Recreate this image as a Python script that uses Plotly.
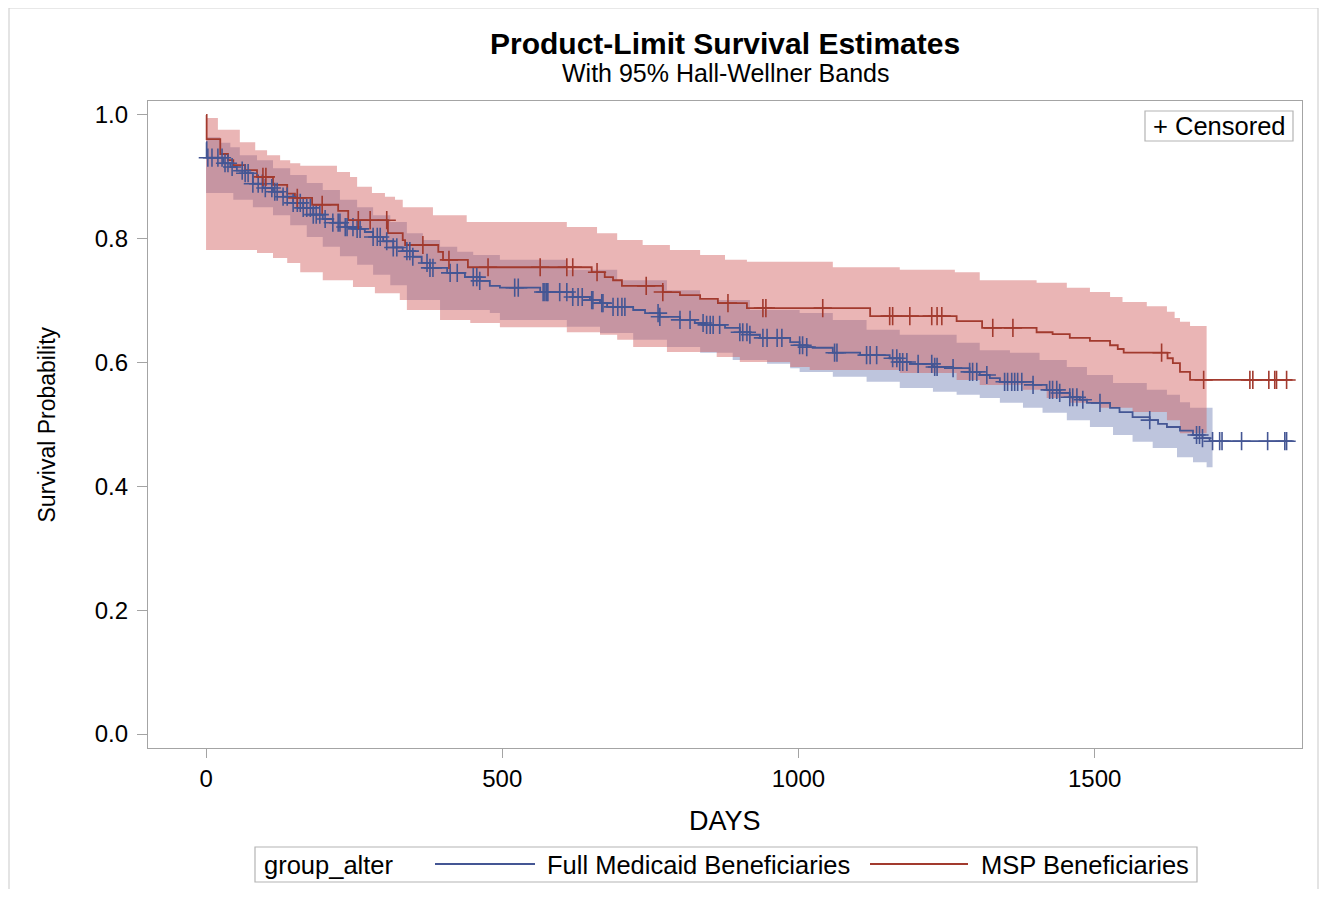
import bisect
import plotly.graph_objects as go

# ---------------- data (days, survival probability) ----------------
MSP_T = [0, 1, 24, 37, 46, 66, 86, 113, 137, 150, 179, 223, 240, 307, 332, 336, 392, 400, 442, 651,
         673, 687, 702, 771, 800, 834, 864, 913, 1121, 1267, 1310, 1402, 1429, 1458, 1492, 1526, 1539,
         1549, 1623, 1632, 1644, 1661]
MSP_S = [1.000, 0.961, 0.937, 0.927, 0.919, 0.911, 0.900, 0.887, 0.873, 0.866, 0.855, 0.845, 0.830,
         0.809, 0.798, 0.790, 0.779, 0.766, 0.754, 0.746, 0.738, 0.733, 0.724, 0.714, 0.709, 0.703,
         0.696, 0.688, 0.675, 0.667, 0.656, 0.649, 0.646, 0.640, 0.635, 0.628, 0.622, 0.616, 0.607,
         0.599, 0.585, 0.572]
MSP_END = 1834
MSP_CENS = [96, 101, 154, 196, 257, 277, 305, 366, 410, 476, 564, 609, 619, 660, 743, 771, 881, 940,
            945, 1041, 1154, 1159, 1188, 1225, 1234, 1242, 1328, 1362, 1613, 1684, 1762, 1767, 1794,
            1804, 1807, 1824]

MCD_T = [0, 1, 29, 41, 52, 66, 79, 96, 113, 130, 147, 164, 181, 197, 214, 235, 255, 268, 282, 299,
         316, 332, 349, 364, 378, 407, 437, 462, 479, 496, 564, 619, 648, 665, 677, 721, 741, 766, 800,
         825, 845, 876, 901, 918, 935, 986, 1002, 1014, 1024, 1058, 1104, 1154, 1171, 1188, 1227, 1261,
         1289, 1306, 1323, 1340, 1396, 1419, 1441, 1458, 1475, 1487, 1526, 1542, 1564, 1593, 1607, 1622,
         1644, 1666, 1682, 1694]
MCD_S = [0.956, 0.931, 0.922, 0.916, 0.910, 0.906, 0.889, 0.882, 0.876, 0.868, 0.858, 0.850, 0.839,
         0.832, 0.826, 0.819, 0.816, 0.811, 0.803, 0.796, 0.786, 0.780, 0.771, 0.761, 0.753, 0.745,
         0.738, 0.732, 0.724, 0.721, 0.714, 0.706, 0.701, 0.696, 0.690, 0.685, 0.680, 0.674, 0.669,
         0.664, 0.661, 0.656, 0.649, 0.645, 0.640, 0.633, 0.628, 0.625, 0.624, 0.616, 0.612, 0.607,
         0.601, 0.598, 0.593, 0.591, 0.585, 0.580, 0.575, 0.569, 0.564, 0.556, 0.551, 0.544, 0.540,
         0.535, 0.527, 0.520, 0.512, 0.507, 0.501, 0.496, 0.490, 0.483, 0.478, 0.473]
MCD_END = 1834
MCD_CENS = [3, 10, 20, 27, 32, 37, 44, 61, 66, 71, 79, 88, 95, 100, 111, 116, 120, 130, 137, 147, 154,
            159, 164, 170, 176, 181, 186, 192, 201, 214, 223, 226, 235, 238, 248, 255, 260, 282, 289,
            294, 305, 316, 322, 339, 344, 349, 373, 378, 383, 412, 424, 451, 457, 462, 521, 527, 569,
            572, 575, 577, 597, 609, 619, 628, 635, 651, 653, 668, 670, 687, 695, 702, 707, 763, 766,
            800, 817, 839, 845, 851, 856, 867, 901, 906, 913, 918, 940, 947, 964, 972, 1002, 1007,
            1014, 1061, 1065, 1115, 1121, 1132, 1159, 1166, 1171, 1176, 1183, 1202, 1225, 1230, 1234,
            1261, 1289, 1294, 1301, 1318, 1348, 1353, 1360, 1365, 1370, 1377, 1396, 1424, 1429, 1436,
            1441, 1458, 1463, 1470, 1480, 1509, 1593, 1672, 1677, 1682, 1699, 1711, 1715, 1748, 1792,
            1821, 1824]

# Hall-Wellner bands
MSP_UP_T = [0, 20, 57, 83, 103, 125, 142, 159, 221, 243, 255, 280, 302, 319, 332, 383, 440, 609, 660,
            694, 737, 783, 834, 876, 913, 1058, 1171, 1264, 1306, 1402, 1453, 1492, 1526, 1547, 1588,
            1622, 1635, 1644, 1661]
MSP_UP = [0.995, 0.976, 0.956, 0.943, 0.935, 0.927, 0.922, 0.918, 0.908, 0.900, 0.884, 0.874, 0.868,
          0.863, 0.851, 0.838, 0.827, 0.819, 0.809, 0.798, 0.790, 0.782, 0.774, 0.766, 0.763, 0.754,
          0.750, 0.746, 0.733, 0.729, 0.721, 0.714, 0.706, 0.698, 0.691, 0.682, 0.672, 0.666, 0.659]
MSP_LO_T = [0, 86, 113, 137, 159, 197, 248, 285, 327, 339, 395, 446, 496, 609, 665, 694, 721, 778, 862,
            901, 986, 1019, 1171, 1267, 1306, 1379, 1419, 1458, 1509, 1564, 1622, 1644]
MSP_LO = [0.782, 0.777, 0.769, 0.761, 0.746, 0.733, 0.722, 0.712, 0.701, 0.685, 0.669, 0.664, 0.657,
          0.649, 0.645, 0.637, 0.625, 0.617, 0.609, 0.601, 0.593, 0.588, 0.583, 0.572, 0.564, 0.556,
          0.543, 0.535, 0.527, 0.520, 0.507, 0.486]
MSP_BAND_END = 1689

MCD_UP_T = [0, 24, 41, 57, 86, 113, 142, 170, 197, 226, 255, 282, 311, 339, 366, 395, 424, 451, 496,
            609, 694, 778, 834, 918, 1002, 1058, 1115, 1171, 1267, 1306, 1357, 1407, 1453, 1487, 1531,
            1588, 1622, 1644, 1661]
MCD_UP = [0.964, 0.955, 0.948, 0.935, 0.927, 0.914, 0.903, 0.890, 0.879, 0.863, 0.851, 0.838, 0.827,
          0.809, 0.798, 0.787, 0.779, 0.774, 0.766, 0.750, 0.733, 0.717, 0.701, 0.685, 0.680, 0.669,
          0.653, 0.645, 0.632, 0.620, 0.616, 0.604, 0.593, 0.580, 0.567, 0.556, 0.548, 0.536, 0.527]
MCD_LO_T = [0, 46, 79, 113, 142, 170, 197, 226, 255, 282, 311, 339, 395, 479, 496, 609, 665, 721, 778,
            834, 889, 947, 986, 1002, 1058, 1115, 1171, 1227, 1267, 1306, 1340, 1379, 1412, 1453, 1492,
            1531, 1564, 1598, 1639, 1666, 1689]
MCD_LO = [0.874, 0.863, 0.851, 0.838, 0.822, 0.803, 0.787, 0.772, 0.758, 0.742, 0.725, 0.701, 0.685,
          0.680, 0.669, 0.658, 0.648, 0.637, 0.625, 0.616, 0.604, 0.598, 0.591, 0.585, 0.577, 0.569,
          0.559, 0.553, 0.548, 0.543, 0.535, 0.527, 0.519, 0.507, 0.496, 0.483, 0.472, 0.462, 0.447,
          0.439, 0.431]
MCD_BAND_END = 1699

X_TICKS = [0, 500, 1000, 1500]
Y_TICKS = [0.0, 0.2, 0.4, 0.6, 0.8, 1.0]
GROUP_NAMES = ["Full Medicaid Beneficiaries", "MSP Beneficiaries"]

# ---------------- styles ----------------
BLUE = "#445694"
RED = "#A23A2E"
BLUE_FILL = "rgba(111,126,179,0.45)"
RED_FILL = "rgba(208,91,91,0.45)"
FONT = "Liberation Sans"
FRAME = "#a4a4a4"


def step_path(T, V, end):
    xs, ys = [], []
    for i, (t, v) in enumerate(zip(T, V)):
        nxt = T[i + 1] if i + 1 < len(T) else end
        xs += [t, nxt]
        ys += [v, v]
    return xs, ys


def band_polygon(up_t, up, lo_t, lo, end):
    ux, uy = step_path(up_t, up, end)
    lx, ly = step_path(lo_t, lo, end)
    return ux + lx[::-1] + [ux[0]], uy + ly[::-1] + [uy[0]]


def surv_at(T, S, t):
    i = bisect.bisect_right(T, t) - 1
    return S[max(i, 0)]


fig = go.Figure()

# bands
bx, by = band_polygon(MCD_UP_T, MCD_UP, MCD_LO_T, MCD_LO, MCD_BAND_END)
fig.add_trace(go.Scatter(x=bx, y=by, fill="toself", fillcolor=BLUE_FILL, line=dict(width=0),
                         mode="lines", hoverinfo="skip", showlegend=False))
bx, by = band_polygon(MSP_UP_T, MSP_UP, MSP_LO_T, MSP_LO, MSP_BAND_END)
fig.add_trace(go.Scatter(x=bx, y=by, fill="toself", fillcolor=RED_FILL, line=dict(width=0),
                         mode="lines", hoverinfo="skip", showlegend=False))

# survival step curves
fig.add_trace(go.Scatter(x=MCD_T + [MCD_END], y=MCD_S + [MCD_S[-1]], mode="lines",
                         line=dict(color=BLUE, width=1.8, shape="hv"), name=GROUP_NAMES[0],
                         showlegend=False))
fig.add_trace(go.Scatter(x=MSP_T + [MSP_END], y=MSP_S + [MSP_S[-1]], mode="lines",
                         line=dict(color=RED, width=1.8, shape="hv"), name=GROUP_NAMES[1],
                         showlegend=False))

# censored markers
fig.add_trace(go.Scatter(x=MCD_CENS, y=[surv_at(MCD_T, MCD_S, t) for t in MCD_CENS], mode="markers",
                         marker=dict(symbol="cross-thin", size=13, line=dict(color=BLUE, width=1.6)),
                         showlegend=False, hoverinfo="skip"))
fig.add_trace(go.Scatter(x=MSP_CENS, y=[surv_at(MSP_T, MSP_S, t) for t in MSP_CENS], mode="markers",
                         marker=dict(symbol="cross-thin", size=13, line=dict(color=RED, width=1.6)),
                         showlegend=False, hoverinfo="skip"))

# page geometry: the page body adds an 8px offset; plot area on page: x 148..1302, y 101..748
OFF = 8
FIG_W, FIG_H = 1315, 881
L, R, T, B = 148, 1302, 101, 748
W, H = R - L, B - T


def px(xp):
    return (xp - L) / W


def py(yp):
    return (B - yp) / H


shapes = []
annotations = []

# outer border
shapes.append(dict(type="path", xref="paper", yref="paper",
                   path=f"M {px(9)},{py(897)} L {px(9)},{py(8)} L {px(1318)},{py(8)} L {px(1318)},{py(897)}",
                   line=dict(color="#d2d2d2", width=1.2)))

# titles
annotations.append(dict(text="<b>Product-Limit Survival Estimates</b>", x=0.5, y=py(44), xref="paper",
                        yref="paper", showarrow=False, xanchor="center", yanchor="middle",
                        font=dict(family=FONT, size=30, color="#000")))
annotations.append(dict(text="With 95% Hall-Wellner Bands", x=0.5, y=py(73), xref="paper",
                        yref="paper", showarrow=False, xanchor="center", yanchor="middle",
                        font=dict(family=FONT, size=25, color="#000")))
# axis titles
annotations.append(dict(text="DAYS", x=0.5, y=py(821), xref="paper", yref="paper", showarrow=False,
                        xanchor="center", yanchor="middle", font=dict(family=FONT, size=27, color="#000")))
annotations.append(dict(text="Survival Probability", x=px(46), y=0.5, xref="paper", yref="paper",
                        showarrow=False, textangle=-90, xanchor="center", yanchor="middle",
                        font=dict(family=FONT, size=23, color="#000")))

# censored inset legend
shapes.append(dict(type="rect", xref="paper", yref="paper", x0=px(1145), x1=px(1293), y0=py(141),
                   y1=py(111), line=dict(color="#b4b4b4", width=1.2), fillcolor="white"))
annotations.append(dict(text="+ Censored", x=px(1219), y=py(126), xref="paper", yref="paper",
                        showarrow=False, xanchor="center", yanchor="middle",
                        font=dict(family=FONT, size=25.5, color="#000")))

# bottom legend
shapes.append(dict(type="rect", xref="paper", yref="paper", x0=px(255), x1=px(1197), y0=py(882),
                   y1=py(847), line=dict(color="#b4b4b4", width=1.2), fillcolor="white"))
annotations.append(dict(text="group_alter", x=px(262), y=py(865), xref="paper", yref="paper",
                        showarrow=False, xanchor="left", yanchor="middle",
                        font=dict(family=FONT, size=25.5, color="#000")))
shapes.append(dict(type="line", xref="paper", yref="paper", x0=px(435), x1=px(535), y0=py(864),
                   y1=py(864), line=dict(color=BLUE, width=1.8)))
annotations.append(dict(text=GROUP_NAMES[0], x=px(545), y=py(865), xref="paper", yref="paper",
                        showarrow=False, xanchor="left", yanchor="middle",
                        font=dict(family=FONT, size=25.5, color="#000")))
shapes.append(dict(type="line", xref="paper", yref="paper", x0=px(870), x1=px(968), y0=py(864),
                   y1=py(864), line=dict(color=RED, width=1.8)))
annotations.append(dict(text=GROUP_NAMES[1], x=px(979), y=py(865), xref="paper", yref="paper",
                        showarrow=False, xanchor="left", yanchor="middle",
                        font=dict(family=FONT, size=25.5, color="#000")))

fig.update_layout(
    width=FIG_W, height=FIG_H,
    margin=dict(l=L - OFF, r=OFF + FIG_W - R, t=T - OFF, b=OFF + FIG_H - B, pad=0),
    paper_bgcolor="white", plot_bgcolor="white",
    showlegend=False,
    shapes=shapes, annotations=annotations,
    font=dict(family=FONT, color="#000"),
)
fig.update_xaxes(range=[-98, 1850], tickvals=X_TICKS, ticks="outside", ticklen=9, tickwidth=1.2,
                 tickcolor=FRAME, showline=True, linecolor=FRAME, linewidth=1.2, mirror=True,
                 showgrid=False, zeroline=False, tickfont=dict(family=FONT, size=24, color="#000"))
fig.update_yaxes(range=[-0.0226, 1.0226], tickvals=Y_TICKS, tickformat=".1f", ticks="outside",
                 ticklen=10, tickwidth=1.2, tickcolor=FRAME, showline=True, linecolor=FRAME,
                 linewidth=1.2, mirror=True, showgrid=False, zeroline=False, ticklabelstandoff=4,
                 tickfont=dict(family=FONT, size=24, color="#000"))

fig.write_html("out.html")
